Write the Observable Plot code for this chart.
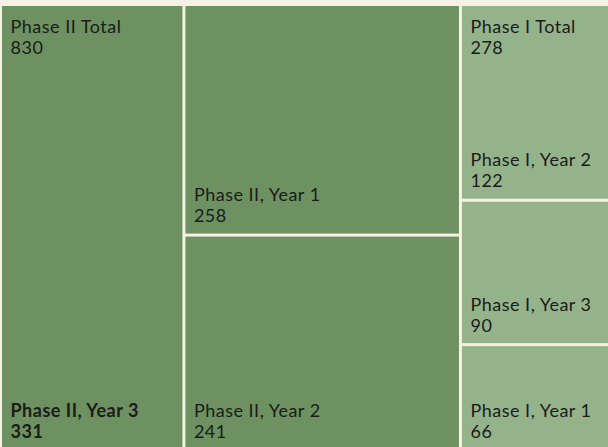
<!DOCTYPE html>
<html><head><meta charset="utf-8">
<script src="https://cdn.jsdelivr.net/npm/d3@7"></script>
<script src="https://cdn.jsdelivr.net/npm/@observablehq/plot@0.6"></script>
<style>
html,body{margin:0;padding:0;background:#f5f2e4;overflow:hidden;}
#chart svg{display:block}
#chart svg text{letter-spacing:0.5px}
</style></head><body><div id="chart"></div>
<script>
const groups = ["Phase II", "Phase I"];
const groupLabels = ["Phase II Total", "Phase I Total"];
const groupColors = ["#6d9160", "#94b38a"];
const leafGroups = ["Phase II", "Phase II", "Phase II", "Phase I", "Phase I", "Phase I"];
const leafNames = ["Phase II, Year 3", "Phase II, Year 1", "Phase II, Year 2", "Phase I, Year 2", "Phase I, Year 3", "Phase I, Year 1"];
const leafValues = [331, 258, 241, 122, 90, 66];
const highlighted = "Phase II, Year 3";

const W = 611, H = 443;
const tree = {
  name: "root",
  children: groups.map((g, i) => ({
    name: g,
    label: groupLabels[i],
    children: leafNames.map((n, j) => ({name: n, group: leafGroups[j], value: leafValues[j]})).filter(d => d.group === g)
  }))
};
const root = d3.hierarchy(tree).sum(d => d.value || 0);
d3.treemap().tile(d3.treemapBinary).size([W, H]).paddingInner(3)(root);
const leaves = root.leaves();
const groupNodes = root.children;

const font = "Lato, 'Open Sans', sans-serif";
const fs = 18, lh = 21 / 18;
const chart = Plot.plot({
  width: 608,
  height: 447,
  margin: 0,
  style: {background: "transparent", fontFamily: font},
  x: {domain: [0, W], range: [2, 2 + W], axis: null},
  y: {domain: [0, H], range: [6, 6 + H], axis: null},
  color: {domain: groups, range: groupColors},
  marks: [
    Plot.rect(leaves, {x1: d => d.x0, x2: d => d.x1, y1: d => d.y0, y2: d => d.y1, fill: d => d.data.group}),
    Plot.text(groupNodes, {x: d => d.x0, y: d => d.y0, text: d => `${d.data.label}\n${d.value}`,
      textAnchor: "start", lineAnchor: "top", dx: 8, dy: 12, fontSize: fs, lineHeight: lh, fill: "#1b1b1b"}),
    Plot.text(leaves.filter(d => d.data.name !== highlighted), {x: d => d.x0, y: d => d.y1, text: d => `${d.data.name}\n${d.value}`,
      textAnchor: "start", lineAnchor: "bottom", dx: 8, dy: -12, fontSize: fs, lineHeight: lh, fill: "#1b1b1b"}),
    Plot.text(leaves.filter(d => d.data.name === highlighted), {x: d => d.x0, y: d => d.y1, text: d => `${d.data.name}\n${d.value}`,
      textAnchor: "start", lineAnchor: "bottom", dx: 8, dy: -12, fontSize: fs, lineHeight: lh, fontWeight: "bold", fill: "#1b1b1b"})
  ]
});
document.getElementById("chart").append(chart);
</script></body></html>
